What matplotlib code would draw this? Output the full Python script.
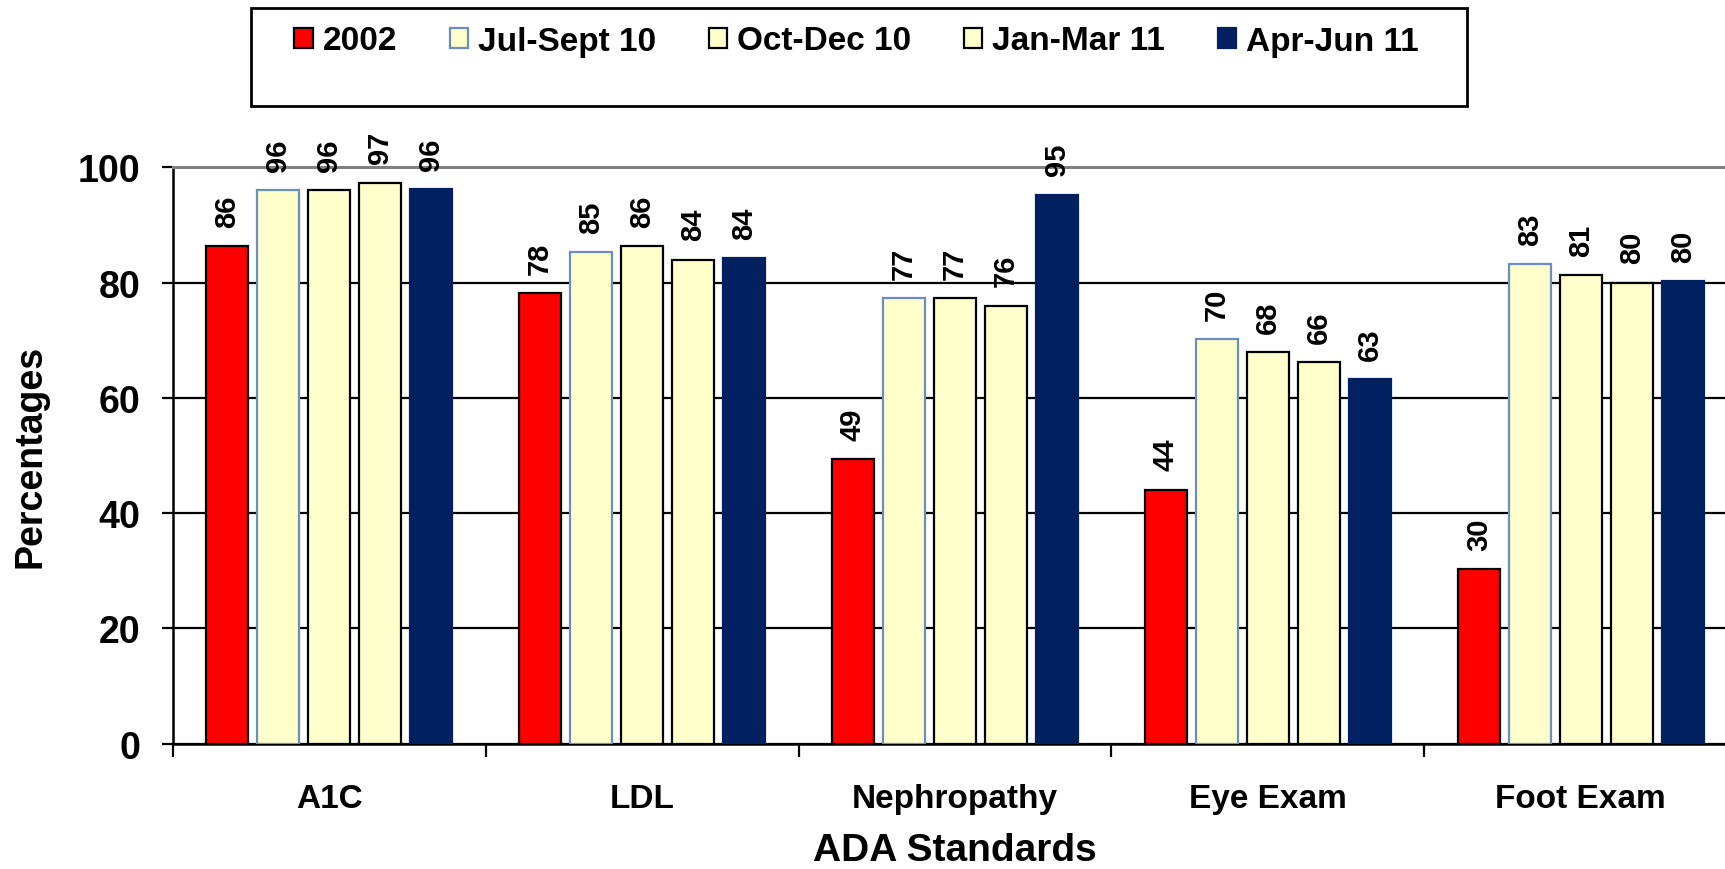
import matplotlib
matplotlib.use("Agg")
import matplotlib.pyplot as plt
import numpy as np
from matplotlib.patches import Rectangle

categories = ["A1C", "LDL", "Nephropathy", "Eye Exam", "Foot Exam"]
series_names = ["2002", "Jul-Sept 10", "Oct-Dec 10", "Jan-Mar 11", "Apr-Jun 11"]
v2002 = [86.3, 78.2, 49.4, 44.1, 30.3]
vjul10 = [96.0, 85.3, 77.3, 70.2, 83.2]
voct10 = [96.0, 86.3, 77.3, 67.9, 81.3]
vjan11 = [97.3, 84.0, 76.0, 66.2, 80.0]
vapr11 = [96.2, 84.2, 95.2, 63.2, 80.2]
series_values = [v2002, vjul10, voct10, vjan11, vapr11]
yticks = [0, 20, 40, 60, 80, 100]

face_colors = ["#FF0000", "#FFFFCC", "#FFFFCC", "#FFFFCC", "#00205F"]
edge_colors = ["#000000", "#6C8EBF", "#000000", "#000000", "#00205F"]

plt.rcParams['font.family'] = ['Liberation Sans', 'DejaVu Sans']
plt.rcParams['font.weight'] = 'bold'

fig = plt.figure(figsize=(17.25, 8.7), dpi=100)
ax = fig.add_axes([0.1001, 0.1439, 0.907, 0.6627])

x = np.arange(len(categories))
step = 0.163
width = 0.134
handles = []
for i, (name, vals) in enumerate(zip(series_names, series_values)):
    offs = (i - 2) * step
    bars = ax.bar(x + offs, vals, width, color=face_colors[i], edgecolor=edge_colors[i],
                  linewidth=1.6, label=name, zorder=3)
    handles.append(bars)
    for xb, v in zip(x + offs, vals):
        ax.annotate(f"{v:.0f}", (xb, v), xytext=(0, 14), textcoords="offset points",
                    rotation=90, ha="center", va="bottom", fontsize=21,
                    fontweight="bold", annotation_clip=False)

ax.set_xlim(-0.5, len(categories) - 0.5)
ax.set_ylim(0, 100)
ax.set_yticks(yticks)
ax.set_yticklabels([str(t) for t in yticks], fontsize=27, fontweight="bold")
ax.yaxis.grid(True, color="black", linewidth=1.6, zorder=0)
ax.set_axisbelow(True)

ax.set_xticks(np.arange(-0.5, len(categories) + 0.5, 1.0))
ax.set_xticklabels([])
ax.set_xticks(x, minor=True)
ax.set_xticklabels(categories, minor=True, fontsize=24, fontweight="bold")
ax.tick_params(axis="x", which="minor", length=0, pad=28)
ax.tick_params(axis="x", which="major", length=9, width=1.6, direction="out")
ax.tick_params(axis="y", length=8, width=1.6, direction="out", pad=15)

for s in ["left", "bottom"]:
    ax.spines[s].set_color("black")
    ax.spines[s].set_linewidth(1.8)
ax.spines["top"].set_color("#808080")
ax.spines["top"].set_linewidth(2.2)
ax.spines["right"].set_visible(False)

ax.set_ylabel("Percentages", fontsize=27, fontweight="bold", labelpad=21)
ax.set_xlabel("ADA Standards", fontsize=28, fontweight="bold", labelpad=13)

fig.patches.append(Rectangle((251 / 1725, 1 - 107 / 870), (1467 - 251) / 1725, 98 / 870,
                             transform=fig.transFigure, fill=False, edgecolor="black",
                             linewidth=2.0, zorder=5))
leg = fig.legend(handles=handles, labels=series_names, loc="center",
                 bbox_to_anchor=(856.5 / 1725, 1 - 42 / 870), ncol=5, frameon=False,
                 prop={"weight": "bold", "size": 24},
                 handlelength=0.55, handleheight=0.55, handletextpad=0.3,
                 columnspacing=1.58, borderpad=0)

fig.savefig("out.png", dpi=100)
